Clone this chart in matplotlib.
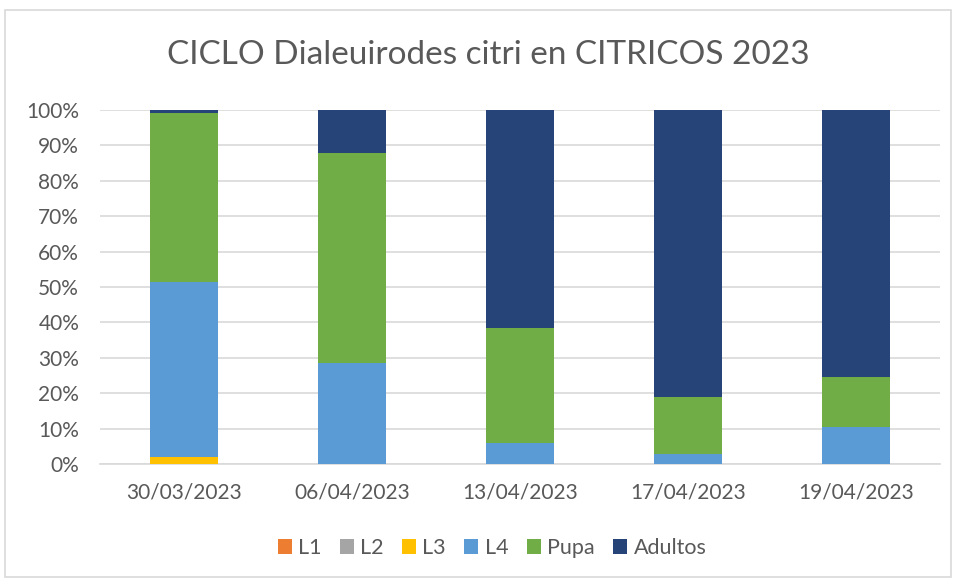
import numpy as np
import matplotlib.pyplot as plt
from matplotlib.patches import Rectangle

plt.rcParams['font.family'] = ['Lato', 'DejaVu Sans']

fechas = ["30/03/2023", "06/04/2023", "13/04/2023", "17/04/2023", "19/04/2023"]
L1 = [0, 0, 0, 0, 0]
L2 = [0, 0, 0, 0, 0]
L3 = [2.0, 0, 0, 0, 0]
L4 = [49.3, 28.5, 5.9, 2.8, 10.5]
pupa = [47.9, 59.4, 32.5, 16.1, 14.1]
adultos = [0.8, 12.1, 61.6, 81.1, 75.4]

series = [("L1", L1, "#ED7D31"), ("L2", L2, "#A5A5A5"), ("L3", L3, "#FFC000"),
          ("L4", L4, "#5B9BD5"), ("Pupa", pupa, "#70AD47"), ("Adultos", adultos, "#264478")]

texto = "#595959"
rejilla = "#D9D9D9"

fig = plt.figure(figsize=(9.56, 5.8), dpi=100)
ax = fig.add_axes([100/956, 1-464/580, 840/956, 354/580])

# borde del area del grafico
fig.patches.append(Rectangle((5/956, 0.005), 0.99, 1-10/580-0.005, transform=fig.transFigure,
                             fill=False, edgecolor=rejilla, linewidth=1.2))

x = np.arange(len(fechas))
totales = np.sum([s[1] for s in series], axis=0)
base = np.zeros(len(fechas))
for nombre, vals, color in series:
    v = np.array(vals) / totales
    ax.bar(x, v, 0.4, bottom=base, color=color, label=nombre, zorder=3)
    base += v

ax.set_xlim(-0.5, 4.5)
ax.set_ylim(0, 1)
ax.set_yticks(np.arange(0, 1.01, 0.1))
ax.set_yticklabels([f"{int(round(t*100))}%" for t in np.arange(0, 1.01, 0.1)])
ax.set_xticks(x)
ax.set_xticklabels(fechas)
ax.grid(axis='y', color=rejilla, linewidth=1.2, zorder=0)
for s in ["top", "right", "left"]:
    ax.spines[s].set_visible(False)
ax.spines["bottom"].set_color(rejilla)
ax.spines["bottom"].set_linewidth(1.2)
ax.tick_params(axis='both', length=0, labelsize=15, colors=texto)
ax.tick_params(axis='y', pad=15)
ax.tick_params(axis='x', pad=13)

fig.text(488/956, 1-55/580, "CICLO Dialeuirodes citri en CITRICOS 2023", ha='center', va='center',
         fontsize=24, color=texto)

fig.legend(loc='center', bbox_to_anchor=(492/956, 1-548/580), ncol=6, frameon=False,
           fontsize=15.5, labelcolor=texto, handlelength=0.65, handleheight=0.65,
           handletextpad=0.3, columnspacing=0.85)

fig.savefig("out.png", dpi=100)
